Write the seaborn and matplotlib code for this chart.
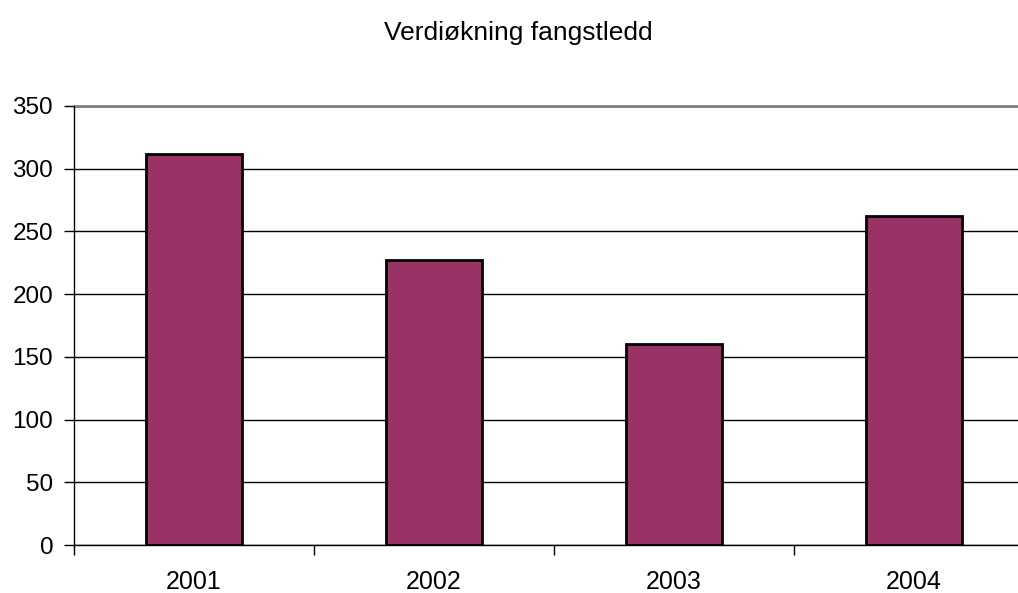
import matplotlib
matplotlib.use("Agg")
import matplotlib.pyplot as plt
import seaborn as sns
import pandas as pd

# Data
years = ["2001", "2002", "2003", "2004"]
values = [312, 227, 160, 262]

df = pd.DataFrame({"year": years, "value": values})

sns.set_style("white")
plt.rcParams["font.family"] = ["Liberation Sans", "DejaVu Sans"]
plt.rcParams["text.color"] = "black"
plt.rcParams["xtick.color"] = "black"
plt.rcParams["ytick.color"] = "black"

fig = plt.figure(figsize=(10.18, 5.93), dpi=100)
ax = fig.add_axes([74 / 1018, 1 - 545 / 593, 960 / 1018, 439 / 593])

sns.barplot(data=df, x="year", y="value", color="#993366", saturation=1,
            edgecolor="black", linewidth=2, width=0.4, ax=ax, zorder=3)

ax.set_ylim(0, 350)
ax.set_yticks(range(0, 351, 50))
ax.set_xlim(-0.5, 3.5)
ax.set_xticks([-0.5, 0.5, 1.5, 2.5, 3.5], minor=False)
ax.set_xticklabels([])
ax.set_xticks([0, 1, 2, 3], minor=True)
ax.set_xticklabels(years, minor=True)
ax.tick_params(axis="x", which="major", bottom=True, direction="out", length=7, width=1, color="black")
ax.tick_params(axis="x", which="minor", bottom=True, length=0, pad=18, labelsize=18, labelcolor="black")
ax.tick_params(axis="y", left=True, direction="out", length=7, width=1, color="black", pad=8,
               labelsize=17.5, labelcolor="black")

ax.yaxis.grid(True, color="black", linewidth=1)
ax.set_axisbelow(True)
ax.set_xlabel("")
ax.set_ylabel("")

for s in ["left", "bottom"]:
    ax.spines[s].set_color("black")
    ax.spines[s].set_linewidth(1)
    ax.spines[s].set_zorder(4)
ax.spines["top"].set_color("#808080")
ax.spines["top"].set_linewidth(2)
ax.spines["right"].set_color("#808080")
ax.spines["right"].set_linewidth(2)

fig.text(518 / 1018, 1 - 33 / 593, "Verdiøkning fangstledd", ha="center", va="center",
         fontsize=19, color="black")

fig.savefig("out.png", dpi=100)
